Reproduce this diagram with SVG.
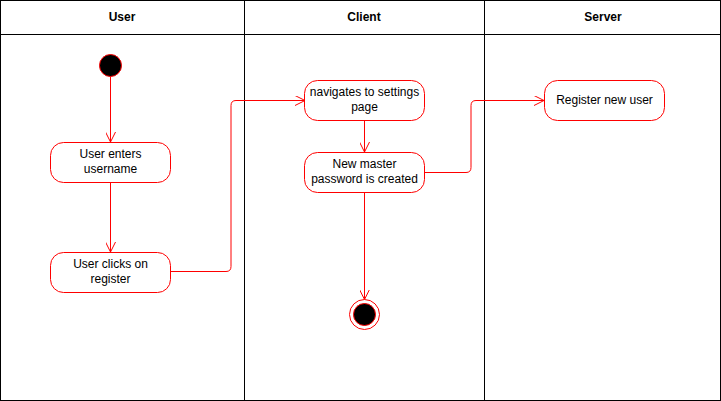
<svg xmlns="http://www.w3.org/2000/svg" width="721" height="401" viewBox="0 0 721 401">
<style>
.lane{fill:none;stroke:#000;stroke-width:1}
.hdr{font-family:"Liberation Sans",Arial,sans-serif;font-size:12px;font-weight:bold;fill:#000;text-anchor:middle}
.act{fill:#fff;stroke:#ff0000;stroke-width:1}
.txt{font-family:"Liberation Sans",Arial,sans-serif;font-size:12px;fill:#000;text-anchor:middle}
.edge{fill:none;stroke:#ff0000;stroke-width:1;marker-end:url(#arr)}
</style>
<defs>
<marker id="arr" viewBox="0 0 10 10" refX="10" refY="5" markerWidth="10" markerHeight="10" markerUnits="userSpaceOnUse" orient="auto">
<path d="M0,0 L10,5 L0,10" fill="none" stroke="#ff0000" stroke-width="1"/>
</marker>
</defs>
<rect width="721" height="401" fill="#fff"/>
<g id="lanes">
<rect class="lane" x="0.5" y="0.5" width="720" height="400"/>
<line class="lane" x1="0.5" y1="34.5" x2="720.5" y2="34.5"/>
<line class="lane" x1="244.5" y1="0.5" x2="244.5" y2="400.5"/>
<line class="lane" x1="484.5" y1="0.5" x2="484.5" y2="400.5"/>
<text class="hdr" x="122" y="21">User</text>
<text class="hdr" x="364" y="21">Client</text>
<text class="hdr" x="603" y="21">Server</text>
</g>
<g id="connectors">
<path class="edge" d="M110.5,76.5 V142"/>
<path class="edge" d="M110.5,182.5 V252"/>
<path class="edge" d="M170.5,271.5 H226 Q231,271.5 231,266.5 V105.5 Q231,100.5 236,100.5 H305"/>
<path class="edge" d="M364.5,120.5 V152"/>
<path class="edge" d="M425,172.5 H466 Q471,172.5 471,167.5 V105.5 Q471,100.5 476,100.5 H544"/>
<path class="edge" d="M364.5,192.5 V299.5"/>
</g>
<g id="start">
<circle cx="110.5" cy="65.5" r="11" fill="#000" stroke="#ff0000" stroke-width="1"/>
</g>
<g id="enters">
<rect class="act" x="50.5" y="142.5" width="120" height="40" rx="13" ry="13"/>
<text class="txt" x="110.5" y="158">User enters</text>
<text class="txt" x="110.5" y="173">username</text>
</g>
<g id="clicks">
<rect class="act" x="50.5" y="252.5" width="120" height="40" rx="13" ry="13"/>
<text class="txt" x="110.5" y="268">User clicks on</text>
<text class="txt" x="110.5" y="283">register</text>
</g>
<g id="navigates">
<rect class="act" x="304.5" y="80.5" width="120" height="40" rx="13" ry="13"/>
<text class="txt" x="364.5" y="96">navigates to settings</text>
<text class="txt" x="364.5" y="111">page</text>
</g>
<g id="created">
<rect class="act" x="304.5" y="152.5" width="120" height="40" rx="13" ry="13"/>
<text class="txt" x="364.5" y="168">New master</text>
<text class="txt" x="364.5" y="183">password is created</text>
</g>
<g id="register">
<rect class="act" x="544.5" y="80.5" width="120" height="40" rx="13" ry="13"/>
<text class="txt" x="604.5" y="104">Register new user</text>
</g>
<g id="end">
<circle cx="364.5" cy="314.5" r="15" fill="#fff" stroke="#ff0000" stroke-width="1"/>
<circle cx="364.5" cy="314.5" r="11" fill="#000" stroke="#ff0000" stroke-width="1"/>
</g>
</svg>
